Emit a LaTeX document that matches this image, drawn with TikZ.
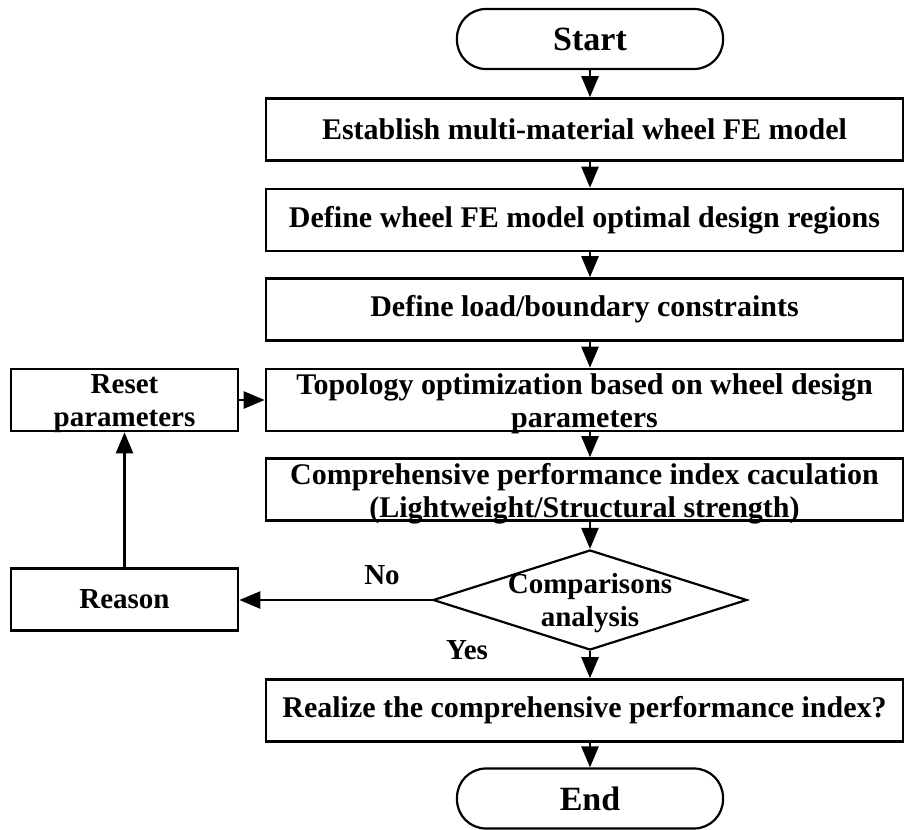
\documentclass[tikz,border=0pt]{standalone}
\usepackage{fontspec}
\setmainfont{Liberation Serif}
\usetikzlibrary{shapes.geometric,arrows.meta,calc}
\begin{document}
\begin{tikzpicture}[x=1pt,y=-1pt,
  every node/.style={font=\bfseries\fontsize{30}{33}\selectfont, inner sep=0pt},
  box/.style={draw, line width=2.6pt, minimum width=637pt, minimum height=62pt},
  sidebox/.style={draw, line width=2.6pt, minimum width=227pt, minimum height=62pt},
  small/.style={font=\bfseries\fontsize{29}{33}\selectfont},
  term/.style={draw, line width=2.2pt, rounded corners=29pt, minimum width=266pt, minimum height=60pt, font=\bfseries\fontsize{34}{40}\selectfont},
  dec/.style={draw, line width=2.2pt, diamond, aspect=3.14, minimum width=314pt, minimum height=100pt},
  arr/.style={line width=2.4pt, -{Triangle[length=21pt,width=17pt]}},
  lbl/.style={font=\bfseries\fontsize{29}{33}\selectfont}]
\useasboundingbox (0,0) rectangle (905,830);
\node[term] (start) at (590,39) {Start};
\node[box] (b1) at (584.5,129.5) {Establish multi-material wheel FE model};
\node[box] (b2) at (584.5,220) {Define wheel FE model optimal design regions};
\node[box] (b3) at (584.5,309.5) {Define load/boundary constraints};
\node[box] (b4) at (584.5,400) {};
\node[align=center] (b4t) at (584.5,404) {Topology optimization based on wheel design\\parameters};
\node[box] (b5) at (584.5,489.5) {};
\node[align=center] (b5t) at (584.5,494) {Comprehensive performance index caculation\\(Lightweight/Structural strength)};
\node[dec] (d) at (590,600) {};
\node[align=center, small] (dt) at (590,603) {Comparisons\\analysis};
\node[box] (b6) at (584.5,710.5) {Realize the comprehensive performance index?};
\node[term] (end) at (590,798.5) {End};
\node[sidebox] (reset) at (124.5,400) {};
\node[align=center, small] (resett) at (124.5,404) {Reset\\parameters};
\node[sidebox, small] (reason) at (124.5,599.5) {Reason};
\node[lbl] (no) at (382,575) {No};
\node[lbl] (yes) at (467,650) {Yes};
\coordinate (ax) at (590,0);
\draw[arr] (start.south) -- (ax |- b1.north);
\draw[arr] (ax |- b1.south) -- (ax |- b2.north);
\draw[arr] (ax |- b2.south) -- (ax |- b3.north);
\draw[arr] (ax |- b3.south) -- (ax |- b4.north);
\draw[arr] (ax |- b4.south) -- (ax |- b5.north);
\draw[arr] (ax |- b5.south) -- (d.north);
\draw[arr] (d.south) -- (ax |- b6.north);
\draw[arr] (ax |- b6.south) -- (end.north);
\draw[arr] (d.west) -- (d.west -| reason.east);
\draw[arr] (reason.north) -- (reset.south);
\draw[arr] (reset.east) -- (reset.east -| b4.west);
\end{tikzpicture}
\end{document}
